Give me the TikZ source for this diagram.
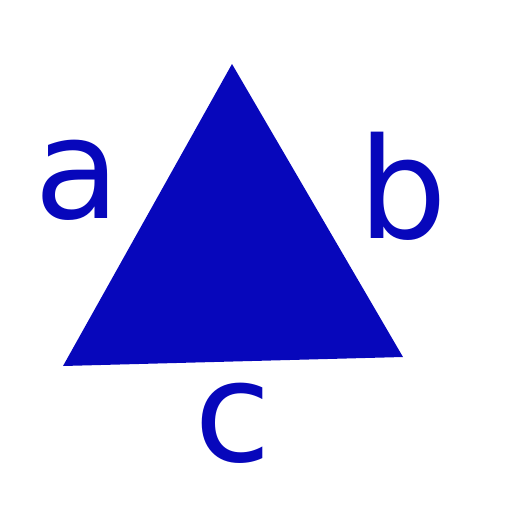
\documentclass[tikz,border=0pt]{standalone}
\usepackage{fontspec}
\setmainfont{DejaVu Sans}
\definecolor{triblue}{HTML}{0707BB}
\begin{document}
\begin{tikzpicture}[x=1pt,y=-1pt,
  lbl/.style={text=triblue,inner sep=0pt,font=\fontsize{140}{140}\selectfont}]
\useasboundingbox (0,0) rectangle (512,512);
\coordinate (A) at (232,64);
\coordinate (B) at (63,366);
\coordinate (C) at (403,357);
\fill[triblue] (A) -- (B) -- (C) -- cycle;
\node[lbl] (la) at (77,180) {a};
\node[lbl] (lb) at (403,186) {b};
\node[lbl] (lc) at (233,423) {c};
\end{tikzpicture}
\end{document}
